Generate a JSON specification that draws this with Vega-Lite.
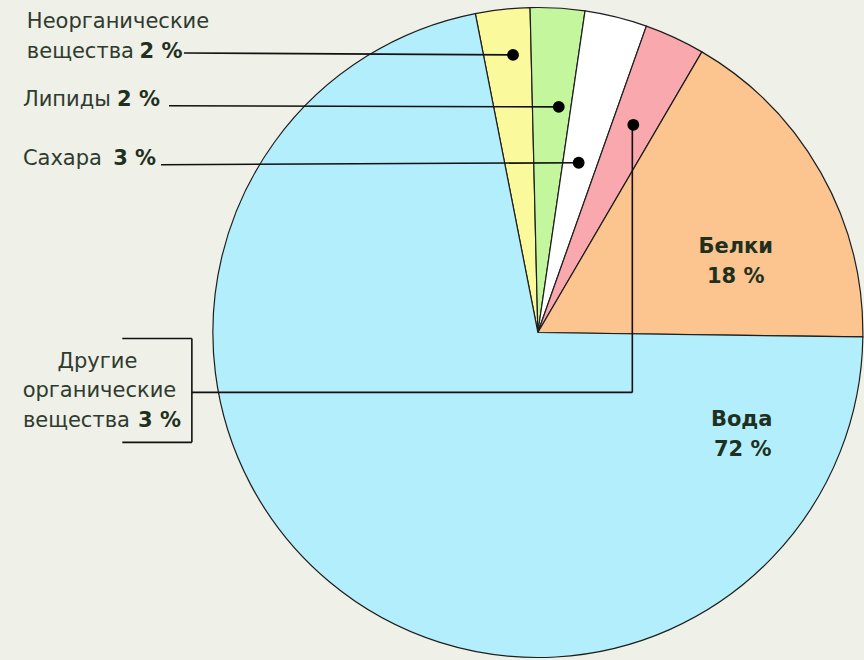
{
  "$schema": "https://vega.github.io/schema/vega-lite/v6.json",
  "width": 864,
  "height": 660,
  "padding": 0,
  "autosize": {"type": "fit", "contains": "padding"},
  "background": "#eff0e7",
  "config": {"view": {"stroke": null}, "text": {"font": "DejaVu Sans", "fontSize": 21, "fill": "#2e3b2e", "baseline": "alphabetic"}},
  "datasets": {
    "pie": [
      {"idx": 1, "name": "Неорганические вещества", "pct": 2, "share": 2.7},
      {"idx": 2, "name": "Липиды", "pct": 2, "share": 2.7},
      {"idx": 3, "name": "Сахара", "pct": 3, "share": 3.1},
      {"idx": 4, "name": "Другие органические вещества", "pct": 3, "share": 3.0},
      {"idx": 5, "name": "Белки", "pct": 18, "share": 16.8},
      {"idx": 6, "name": "Вода", "pct": 72, "share": 71.7}
    ],
    "leaders": [
      {"id": "inorg", "x": -1.0954, "y": 0.8615, "x2": -0.0769, "y2": 0.8554},
      {"id": "lipid", "x": -1.1415, "y": 0.6985, "x2": 0.0646, "y2": 0.6954},
      {"id": "sugar", "x": -1.1662, "y": 0.5169, "x2": 0.1262, "y2": 0.5231},
      {"id": "other-up", "x": 0.2923, "y": 0.64, "x2": 0.2923, "y2": -0.1846},
      {"id": "other-h", "x": -1.0708, "y": -0.1846, "x2": 0.2923, "y2": -0.1846},
      {"id": "brace-v", "x": -1.0708, "y": -0.0185, "x2": -1.0708, "y2": -0.3385},
      {"id": "brace-top", "x": -1.2862, "y": -0.0185, "x2": -1.0708, "y2": -0.0185},
      {"id": "brace-bottom", "x": -1.2862, "y": -0.3385, "x2": -1.0708, "y2": -0.3385}
    ],
    "dots": [
      {"id": "inorg", "x": -0.0769, "y": 0.8554},
      {"id": "lipid", "x": 0.0646, "y": 0.6954},
      {"id": "sugar", "x": 0.1262, "y": 0.5231},
      {"id": "other", "x": 0.2954, "y": 0.64}
    ],
    "labels": [
      {"kind": "rl", "text": "Неорганические", "x": -1.5815, "y": 0.9385},
      {"kind": "rl", "text": "вещества", "x": -1.5815, "y": 0.8462},
      {"kind": "br", "text": "2 %", "x": -1.1, "y": 0.8462},
      {"kind": "rl", "text": "Липиды", "x": -1.5938, "y": 0.6985},
      {"kind": "br", "text": "2 %", "x": -1.1692, "y": 0.6985},
      {"kind": "rl", "text": "Сахара", "x": -1.5938, "y": 0.5169},
      {"kind": "br", "text": "3 %", "x": -1.1815, "y": 0.5169},
      {"kind": "rc", "text": "Другие", "x": -1.3631, "y": -0.1108},
      {"kind": "rc", "text": "органические", "x": -1.3569, "y": -0.2},
      {"kind": "rl", "text": "вещества", "x": -1.5938, "y": -0.2923},
      {"kind": "br", "text": "3 %", "x": -1.1046, "y": -0.2923},
      {"kind": "bc", "text": "Белки", "x": 0.6123, "y": 0.2462},
      {"kind": "bc", "text": "18 %", "x": 0.6123, "y": 0.1538},
      {"kind": "bc", "text": "Вода", "x": 0.6308, "y": -0.2892},
      {"kind": "bc", "text": "72 %", "x": 0.6338, "y": -0.3815}
    ]
  },
  "layer": [
    {
      "data": {"name": "pie"},
      "mark": {"type": "arc", "outerRadius": 325, "stroke": "#1e1e1e", "strokeWidth": 1.2},
      "encoding": {
        "theta": {"field": "share", "type": "quantitative", "stack": true, "scale": {"range": [-0.1937, 6.0895]}},
        "order": {"field": "idx", "type": "quantitative"},
        "color": {"field": "name", "type": "nominal", "legend": null,
          "scale": {"domain": ["Неорганические вещества", "Липиды", "Сахара", "Другие органические вещества", "Белки", "Вода"],
                    "range": ["#fafa9c", "#c4f79d", "#ffffff", "#f9a9ae", "#fcc48f", "#b2eefb"]}},
        "x": {"datum": 0, "type": "quantitative", "axis": null, "scale": {"domain": [-1.6646, 0.9938], "nice": false, "zero": false}},
        "y": {"datum": 0, "type": "quantitative", "axis": null, "scale": {"domain": [-1.0062, 1.0246], "nice": false, "zero": false}}
      }
    },
    {
      "data": {"name": "leaders"},
      "mark": {"type": "rule", "color": "#111111", "strokeWidth": 1.6},
      "encoding": {
        "x": {"field": "x", "type": "quantitative", "axis": null, "scale": {"domain": [-1.6646, 0.9938], "nice": false, "zero": false}},
        "y": {"field": "y", "type": "quantitative", "axis": null, "scale": {"domain": [-1.0062, 1.0246], "nice": false, "zero": false}},
        "x2": {"field": "x2"},
        "y2": {"field": "y2"}
      }
    },
    {
      "data": {"name": "dots"},
      "mark": {"type": "circle", "size": 140, "color": "#000000", "opacity": 1},
      "encoding": {
        "x": {"field": "x", "type": "quantitative", "axis": null},
        "y": {"field": "y", "type": "quantitative", "axis": null}
      }
    },
    {
      "data": {"name": "labels"},
      "transform": [{"filter": "datum.kind === 'rl'"}],
      "mark": {"type": "text", "align": "left"},
      "encoding": {
        "x": {"field": "x", "type": "quantitative", "axis": null},
        "y": {"field": "y", "type": "quantitative", "axis": null},
        "text": {"field": "text"}
      }
    },
    {
      "data": {"name": "labels"},
      "transform": [{"filter": "datum.kind === 'rc'"}],
      "mark": {"type": "text", "align": "center"},
      "encoding": {
        "x": {"field": "x", "type": "quantitative", "axis": null},
        "y": {"field": "y", "type": "quantitative", "axis": null},
        "text": {"field": "text"}
      }
    },
    {
      "data": {"name": "labels"},
      "transform": [{"filter": "datum.kind === 'br'"}],
      "mark": {"type": "text", "align": "right", "fontWeight": "bold", "fill": "#1f301f"},
      "encoding": {
        "x": {"field": "x", "type": "quantitative", "axis": null},
        "y": {"field": "y", "type": "quantitative", "axis": null},
        "text": {"field": "text"}
      }
    },
    {
      "data": {"name": "labels"},
      "transform": [{"filter": "datum.kind === 'bc'"}],
      "mark": {"type": "text", "align": "center", "fontWeight": "bold", "fill": "#1f301f"},
      "encoding": {
        "x": {"field": "x", "type": "quantitative", "axis": null},
        "y": {"field": "y", "type": "quantitative", "axis": null},
        "text": {"field": "text"}
      }
    }
  ]
}
